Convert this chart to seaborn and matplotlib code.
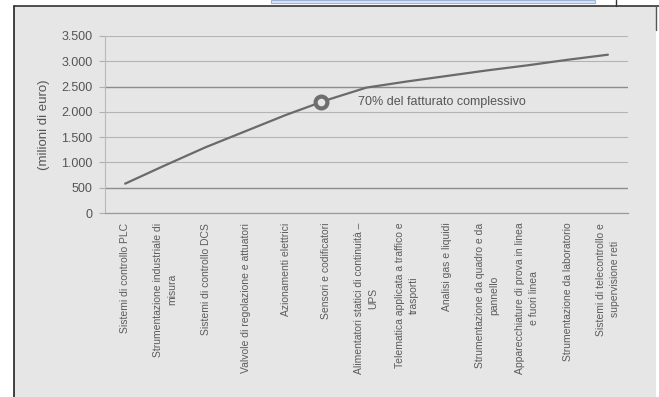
import numpy as np
import pandas as pd
import matplotlib
matplotlib.use("Agg")
import matplotlib.pyplot as plt
from matplotlib.lines import Line2D
from matplotlib.patches import Rectangle
from matplotlib.ticker import FuncFormatter
import seaborn as sns

# Fatturato cumulato per comparto (milioni di euro)
categorie = [
    "Sistemi di controllo PLC",
    "Strumentazione industriale di\nmisura",
    "Sistemi di controllo DCS",
    "Valvole di regolazione e attuatori",
    "Azionamenti elettrici",
    "Sensori e codificatori",
    "Alimentatori statici di continuità –\nUPS",
    "Telematica applicata a traffico e\ntrasporti",
    "Analisi gas e liquidi",
    "Strumentazione da quadro e da\npannello",
    "Apparecchiature di prova in linea\ne fuori linea",
    "Strumentazione da laboratorio",
    "Sistemi di telecontrollo e\nsupervisione reti",
]
fatturato_cumulato = [580, 945, 1300, 1620, 1940, 2230, 2480,
                      2600, 2710, 2820, 2920, 3030, 3130]
quota_soglia = 0.70
etichetta_soglia = "70% del fatturato complessivo"
y_ticks = [0, 500, 1000, 1500, 2000, 2500, 3000, 3500]

df = pd.DataFrame({"pos": np.arange(len(categorie)),
                   "valore": fatturato_cumulato})

sns.set_style("white")
plt.rcParams["font.family"] = ["Liberation Sans", "DejaVu Sans"]

W, H = 659, 397
fig = plt.figure(figsize=(W / 100, H / 100), dpi=100)
fig.patch.set_facecolor("white")

bg = "#e6e6e6"
txt = "#555555"

# scanned page frame
fig.add_artist(Rectangle((14 / W, 0), (656 - 14) / W, 1 - 6 / H,
                         transform=fig.transFigure, facecolor=bg,
                         edgecolor="none", zorder=-10))
fig.add_artist(Line2D([14 / W, 14 / W], [0, 1 - 6 / H], transform=fig.transFigure,
                      color="#222222", lw=1.2))
fig.add_artist(Line2D([14 / W, 1], [1 - 6 / H, 1 - 6 / H], transform=fig.transFigure,
                      color="#333333", lw=1.2))
fig.add_artist(Line2D([616 / W, 616 / W], [1, 1 - 6 / H], transform=fig.transFigure,
                      color="#333333", lw=1.0))
fig.add_artist(Line2D([656 / W, 656 / W], [1 - 6 / H, 1 - 30 / H],
                      transform=fig.transFigure, color="#555555", lw=1.0))
fig.add_artist(Rectangle((271 / W, 1 - 3 / H), (595 - 271) / W, 3 / H,
                         transform=fig.transFigure, facecolor="#dbe6f7",
                         edgecolor="#9db4d8", lw=0.8))

ax = fig.add_axes([105 / W, 1 - 213 / H, (628 - 105) / W, (213 - 36) / H])
ax.set_facecolor(bg)

sns.lineplot(data=df, x="pos", y="valore", ax=ax, color="#6a6a6a",
             lw=1.6, sort=False, zorder=3)

# punto in cui il cumulato raggiunge il 70% del totale
soglia = quota_soglia * fatturato_cumulato[-1]
pos_soglia = np.interp(soglia, fatturato_cumulato, df["pos"])
ax.plot([pos_soglia], [soglia], "o", ms=8.5, mew=3.0, mec="#6e6e6e",
        mfc=bg, zorder=5)
ax.annotate(etichetta_soglia, xy=(pos_soglia, soglia), xytext=(27, 0),
            textcoords="offset points", va="center", ha="left",
            fontsize=9, color=txt)

ax.set_xlim(-0.5, len(categorie) - 0.5)
ax.set_ylim(y_ticks[0], y_ticks[-1])
ax.set_yticks(y_ticks)
ax.yaxis.set_major_formatter(FuncFormatter(lambda v, p: f"{v:,.0f}".replace(",", ".")))

ax.set_xticks(df["pos"])
ax.set_xticklabels(categorie, rotation=90, ha="center", va="top",
                   fontsize=7.5, color="#5c5c5c", linespacing=1.5,
                   multialignment="center")
ax.set_xticks(np.arange(-0.5, len(categorie), 1), minor=True)
ax.tick_params(axis="x", which="major", length=0, pad=7)
ax.tick_params(axis="x", which="minor", length=4, width=0.8, color="#a0a0a0",
               direction="out")
ax.tick_params(axis="y", length=4, width=0.8, color="#b0b0b0", pad=5,
               labelsize=9, labelcolor=txt, left=True)

ax.set_xlabel("")
ax.set_ylabel("(milioni di euro)", fontsize=9.5, color=txt, labelpad=8)

ax.grid(axis="y", color="#b4b4b4", lw=0.8)
for v, gl in zip(y_ticks, ax.get_ygridlines()):
    if v in (500, 2500):
        gl.set_color("#8c8c8c")
        gl.set_linewidth(1.0)
ax.set_axisbelow(True)

for side in ("top", "right"):
    ax.spines[side].set_visible(False)
ax.spines["left"].set_color("#b8b8b8")
ax.spines["left"].set_linewidth(0.8)
ax.spines["bottom"].set_color("#9a9a9a")
ax.spines["bottom"].set_linewidth(0.9)

fig.savefig("out.png", dpi=100, facecolor=fig.get_facecolor())
